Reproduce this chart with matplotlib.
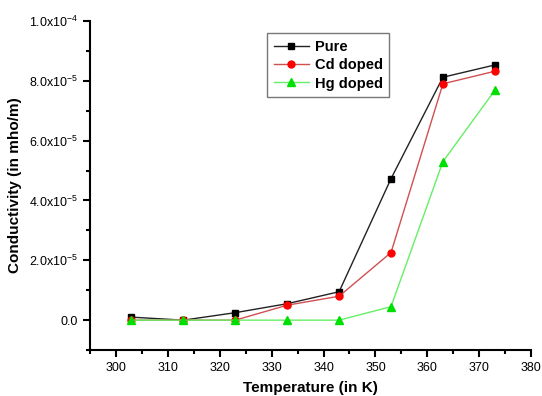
import math
import matplotlib
matplotlib.use("Agg")
import matplotlib.pyplot as plt
from matplotlib.ticker import MultipleLocator, FuncFormatter

plt.rcParams['font.family'] = ['Liberation Sans', 'DejaVu Sans']
plt.rcParams['mathtext.fontset'] = 'custom'
plt.rcParams['mathtext.rm'] = 'Liberation Sans'
plt.rcParams['mathtext.it'] = 'Liberation Sans'
plt.rcParams['mathtext.bf'] = 'Liberation Sans:bold'

temperature = [303, 313, 323, 333, 343, 353, 363, 373]
pure = [0.1e-5, 0.0, 0.25e-5, 0.55e-5, 0.95e-5, 4.73e-5, 8.12e-5, 8.53e-5]
cd_doped = [0.0, 0.0, 0.0, 0.5e-5, 0.8e-5, 2.26e-5, 7.9e-5, 8.32e-5]
hg_doped = [0.0, 0.0, 0.0, 0.0, 0.0, 0.45e-5, 5.3e-5, 7.68e-5]

fig = plt.figure(figsize=(5.42, 3.96), dpi=100)
ax = fig.add_axes([0.166, 0.116, 0.814, 0.831])

ax.plot(temperature, pure, color='#222222', marker='s', markersize=4.3,
        markerfacecolor='black', markeredgecolor='black', lw=1, label='Pure')
ax.plot(temperature, cd_doped, color='#d05050', marker='o', markersize=5,
        markerfacecolor='red', markeredgecolor='red', lw=1, label='Cd doped')
ax.plot(temperature, hg_doped, color='#66ee66', marker='^', markersize=5.5,
        markerfacecolor='#00e000', markeredgecolor='#00e000', lw=1, label='Hg doped')

ax.set_xlim(295, 380)
ax.set_ylim(-1e-5, 1e-4)
ax.xaxis.set_major_locator(MultipleLocator(10))
ax.xaxis.set_minor_locator(MultipleLocator(5))
ax.yaxis.set_major_locator(MultipleLocator(2e-5))
ax.yaxis.set_minor_locator(MultipleLocator(1e-5))

def yfmt(v, pos):
    if abs(v) < 1e-12:
        return '0.0'
    e = int(math.floor(math.log10(abs(v)) + 1e-9))
    m = v / 10**e
    return r'%.1fx10$^{-%d}$' % (m, -e)

ax.yaxis.set_major_formatter(FuncFormatter(yfmt))
ax.spines['top'].set_visible(False)
ax.spines['right'].set_visible(False)
ax.spines['left'].set_linewidth(1.5)
ax.spines['bottom'].set_linewidth(1.5)
ax.tick_params(which='major', direction='out', length=5, width=1.5, labelsize=9)
ax.tick_params(which='minor', direction='out', length=3, width=1.5)

ax.set_xlabel('Temperature (in K)', fontsize=11, fontweight='bold', labelpad=5)
ax.set_ylabel('Conductivity (in mho/m)', fontsize=11, fontweight='bold', labelpad=5)

leg = ax.legend(loc='upper left', bbox_to_anchor=(0.385, 0.985), fancybox=False,
                edgecolor='#555555', prop={'weight': 'bold', 'size': 10.5},
                handlelength=2.4, borderpad=0.45, labelspacing=0.3, handletextpad=0.4)
leg.get_frame().set_linewidth(1.0)

fig.savefig('out.png', dpi=100)
